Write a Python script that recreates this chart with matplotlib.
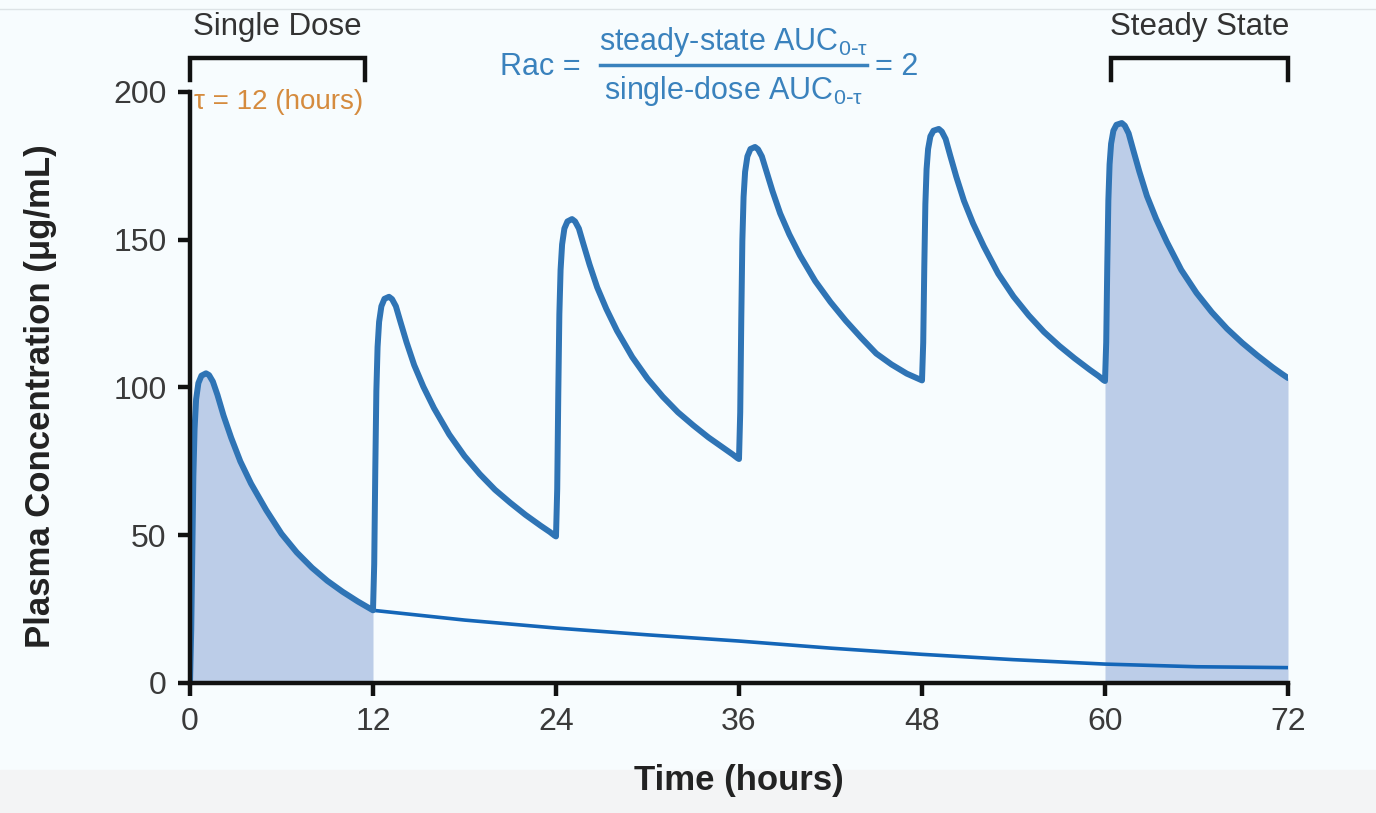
import matplotlib
matplotlib.use('Agg')

import numpy as np
import matplotlib.pyplot as plt
from matplotlib.lines import Line2D
from matplotlib.patches import Rectangle

# multiple-dose curve (hours, ug/mL)
dose_time = [0.0, 0.08, 0.15, 0.22, 0.3, 0.4, 0.55, 0.75, 1.05, 1.25, 1.5, 1.8, 2.2, 2.7,
             3.3, 4, 5, 6, 7, 8, 9, 10, 11, 11.6, 11.9, 12.0,
             12.08, 12.15, 12.22, 12.3, 12.4, 12.55, 12.75, 13.05, 13.25, 13.5, 13.8, 14.2,
             14.7, 15.3, 16, 17, 18, 19, 20, 21, 22, 23, 23.6, 23.9, 24.0,
             24.08, 24.15, 24.22, 24.3, 24.4, 24.55, 24.75, 25.05, 25.25, 25.5, 25.8, 26.2,
             26.7, 27.3, 28, 29, 30, 31, 32, 33, 34, 35, 35.6, 35.9, 36.0,
             36.08, 36.15, 36.22, 36.3, 36.4, 36.55, 36.75, 37.05, 37.25, 37.5, 37.8, 38.2,
             38.7, 39.3, 40, 41, 42, 43, 44, 45, 46, 47, 47.6, 47.9, 48.0,
             48.08, 48.15, 48.22, 48.3, 48.4, 48.55, 48.75, 49.1, 49.3, 49.55, 49.85, 50.25,
             50.75, 51.35, 52.05, 53, 54, 55, 56, 57, 58, 59, 59.6, 59.9, 60.0,
             60.08, 60.15, 60.22, 60.3, 60.4, 60.55, 60.75, 61.1, 61.3, 61.55, 61.85, 62.25,
             62.75, 63.35, 64.05, 65, 66, 67, 68, 69, 70, 71, 71.6, 72.0]
conc = [0.0, 18, 45, 70, 86, 96, 101.5, 104, 104.8, 104.2, 102, 97.5, 90.5, 83,
        75, 67.5, 58.5, 50.5, 44.2, 39, 34.6, 30.9, 27.6, 25.8, 24.9, 24.6,
        40.3, 72.2, 98.8, 113.7, 122.2, 127.5, 130.0, 130.7, 129.9, 127.5, 122.2, 115.3,
        107.6, 100.3, 93.0, 84.1, 76.8, 70.7, 65.4, 61.0, 56.9, 53.2, 51.1, 49.9, 49.6,
        65.7, 97.9, 124.8, 139.8, 148.4, 153.8, 156.2, 157.0, 156.2, 153.8, 148.5, 141.6,
        133.9, 126.6, 119.2, 110.3, 103.0, 96.9, 91.6, 87.2, 83.1, 79.5, 77.3, 76.1, 75.8,
        91.6, 123.3, 149.7, 164.5, 173.0, 178.2, 180.7, 181.4, 180.6, 178.2, 173.1, 166.4,
        158.9, 151.8, 144.7, 136.0, 128.9, 122.6, 116.9, 111.5, 107.8, 104.7, 103.3, 102.6, 102.4,
        115.2, 140.7, 162.0, 173.9, 180.7, 185.0, 186.9, 187.5, 186.6, 184.1, 178.5, 171.3,
        163.2, 155.5, 147.8, 138.5, 130.8, 124.4, 118.8, 114.1, 109.9, 106.0, 103.8, 102.5, 102.2,
        115.3, 141.5, 163.3, 175.5, 182.5, 186.9, 188.9, 189.5, 188.6, 186.0, 180.4, 173.1,
        164.8, 157.1, 149.3, 139.8, 132.0, 125.5, 119.9, 115.1, 110.8, 106.8, 104.6, 103.2]

# single dose curve after the first dosing interval
single_time = [12, 18, 24, 30, 36, 42, 48, 54, 60, 66, 72]
single_conc = [24.6, 21.3, 18.6, 16.3, 14.2, 11.8, 9.7, 7.9, 6.4, 5.5, 5.2]

x_ticks = [0, 12, 24, 36, 48, 60, 72]
y_ticks = [0, 50, 100, 150, 200]

bg = '#F7FCFE'
blue = '#2F74B5'
fill_col = '#BCCDE8'
txt_blue = '#3A82BD'
orange = '#D58B3E'

plt.rcParams['font.family'] = ['Liberation Sans', 'DejaVu Sans']

fig = plt.figure(figsize=(13.76, 8.13), dpi=100, facecolor=bg)
ax = fig.add_axes([190 / 1376, 1 - 683 / 813, 1098 / 1376, 591 / 813])
ax.set_facecolor(bg)

t = np.array(dose_time)
c = np.array(conc)
ax.fill_between(t, 0, c, where=t <= 12, color=fill_col, lw=0)
ax.fill_between(t, 0, c, where=t >= 60, color=fill_col, lw=0)
ax.plot(single_time, single_conc, color='#1466B8', lw=2.6, solid_capstyle='butt')
ax.plot(t, c, color=blue, lw=4.3, solid_joinstyle='round', solid_capstyle='round')

ax.set_xlim(0, 72)
ax.set_ylim(0, 200)
ax.set_xticks(x_ticks)
ax.set_yticks(y_ticks)
for s in ['top', 'right']:
    ax.spines[s].set_visible(False)
for s in ['left', 'bottom']:
    ax.spines[s].set_linewidth(3.2)
    ax.spines[s].set_color('#111111')
ax.tick_params(length=9, width=3.2, color='#111111', labelsize=23,
               labelcolor='#3a3a3a', pad=8)

ax.set_xlabel('Time (hours)', fontsize=25, fontweight='bold', color='#222222', labelpad=20)
ax.set_ylabel('Plasma Concentration (μg/mL)', fontsize=25, fontweight='bold',
              color='#222222')
ax.yaxis.set_label_coords(-0.121, 0.485)

# brackets over the dosing intervals
def bracket(x0, x1, label):
    ax.plot([x0, x0, x1, x1], [204, 211.5, 211.5, 204], color='#111111', lw=3.2,
            clip_on=False, solid_joinstyle='miter')
    ax.text((x0 + x1) / 2, 222, label, ha='center', va='center', fontsize=22.5,
            color='#333333', clip_on=False)

bracket(0, 11.5, 'Single Dose')
bracket(60.4, 72, 'Steady State')

ax.text(0.25, 196.5, 'τ = 12 (hours)', ha='left', va='center', fontsize=20,
        color=orange)

# accumulation ratio formula
fx = 0.5 * (600 + 867) / 1376
fig.text(540 / 1376, 1 - 67 / 813, 'Rac =', ha='center', va='center', fontsize=22,
         color=txt_blue)
fig.text(fx, 1 - 42 / 813, r'steady-state AUC$_{\mathregular{0\text{-}τ}}$', ha='center',
         va='center', fontsize=22, color=txt_blue)
fig.text(fx, 1 - 91 / 813, r'single-dose AUC$_{\mathregular{0\text{-}τ}}$', ha='center',
         va='center', fontsize=22, color=txt_blue)
fig.add_artist(Line2D([600 / 1376, 867 / 1376], [1 - 65 / 813, 1 - 65 / 813],
                      color=txt_blue, lw=2.5))
fig.text(897 / 1376, 1 - 67 / 813, '= 2', ha='center', va='center', fontsize=22,
         color=txt_blue)

# faint frame artefacts of the original
fig.add_artist(Line2D([0, 1], [1 - 9 / 813, 1 - 9 / 813], color='#DDE3E6', lw=1))
fig.add_artist(Rectangle((0, 0), 1, 43 / 813, transform=fig.transFigure,
                         color='#F3F4F5', zorder=-1))

fig.savefig('out.png', dpi=100, facecolor=bg)
